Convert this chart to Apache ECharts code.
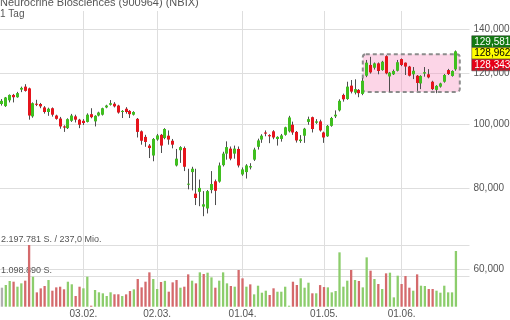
<!DOCTYPE html>
<html><head><meta charset="utf-8">
<script src="https://cdn.jsdelivr.net/npm/echarts@6/dist/echarts.min.js"></script>
<style>html,body{margin:0;padding:0;background:#fff}#c{width:510px;height:320px}</style>
</head><body><div id="c"></div>
<script>
const chartTitle = 'Neurocrine Biosciences (900964) (NBIX)';
const chartSubtitle = '1 Tag';

const dates = [
 '02.01.','03.01.','06.01.','07.01.','08.01.','09.01.','10.01.','13.01.','14.01.','15.01.','16.01.','17.01.','21.01.','22.01.','23.01.','24.01.','27.01.','28.01.','29.01.','30.01.','31.01.',
 '03.02.','04.02.','05.02.','06.02.','07.02.','10.02.','11.02.','12.02.','13.02.','14.02.','18.02.','19.02.','20.02.','21.02.','24.02.','25.02.','26.02.','27.02.','28.02.',
 '02.03.','03.03.','04.03.','05.03.','06.03.','09.03.','10.03.','11.03.','12.03.','13.03.','16.03.','17.03.','18.03.','19.03.','20.03.','23.03.','24.03.','25.03.','26.03.','27.03.','30.03.','31.03.',
 '01.04.','02.04.','03.04.','06.04.','07.04.','08.04.','09.04.','13.04.','14.04.','15.04.','16.04.','17.04.','20.04.','21.04.','22.04.','23.04.','24.04.','27.04.','28.04.','29.04.','30.04.',
 '01.05.','04.05.','05.05.','06.05.','07.05.','08.05.','11.05.','12.05.','13.05.','14.05.','15.05.','18.05.','19.05.','20.05.','21.05.','22.05.','26.05.','27.05.','28.05.','29.05.',
 '01.06.','02.06.','03.06.','04.06.','05.06.','08.06.','09.06.','10.06.','11.06.','12.06.','15.06.','16.06.','17.06.','18.06.','19.06.'
];

const openPx = [
 107.6,106.8,109.0,111.1,110.2,113.2,114.4,113.7,103.0,107.7,
 107.6,106.3,104.6,106.0,103.3,102.2,99.4,98.8,101.4,103.0,
 101.8,101.4,101.0,103.8,101.2,103.3,103.6,106.3,107.3,107.7,
 107.0,104.6,105.8,105.0,103.6,102.1,97.7,95.8,92.9,89.7,
 94.9,96.5,95.4,96.2,94.5,86.6,91.4,92.1,81.0,84.6,
 78.4,78.9,74.9,74.4,79.4,81.9,81.8,86.7,90.3,91.9,
 90.3,91.8,83.9,84.6,86.0,88.4,92.5,94.9,97.3,96.4,
 97.7,95.1,95.1,96.5,97.7,100.0,97.5,94.4,96.2,101.0,
 102.7,100.7,101.2,97.3,96.0,99.6,103.0,105.2,111.1,109.5,
 114.8,112.0,113.1,111.5,118.9,123.5,122.3,124.2,121.3,127.4,
 118.6,119.5,121.0,126.1,124.5,122.8,119.5,118.9,115.7,119.8,
 119.5,116.4,113.1,114.4,116.4,121.3,118.8,121.6
];
const closePx = [
 108.8,110.1,111.1,110.2,111.8,113.9,112.7,103.3,107.9,107.3,
 106.7,104.6,105.8,103.6,102.1,99.4,99.0,102.0,103.3,101.8,
 100.0,100.6,103.6,102.7,103.2,104.4,106.0,107.0,107.9,106.7,
 104.4,105.0,104.6,103.8,104.6,97.5,94.5,94.1,92.1,95.1,
 96.3,92.9,98.5,94.9,93.2,88.7,92.4,86.2,81.2,85.6,
 77.2,80.0,75.5,79.1,81.1,79.2,86.6,90.3,92.4,88.7,
 91.9,86.6,85.4,86.6,86.4,91.6,94.6,96.2,96.9,96.0,
 95.6,95.8,96.3,99.1,102.6,97.3,94.6,94.9,98.6,102.0,
 98.5,101.2,98.0,95.6,99.6,102.4,103.6,108.8,109.4,114.4,
 112.4,113.4,111.8,116.8,124.5,120.3,124.2,120.9,124.9,119.9,
 120.2,120.9,124.7,123.5,122.8,118.9,121.0,115.9,118.8,120.4,
 118.2,113.4,114.7,115.7,119.2,119.6,120.9,129.581
];
const lowPx = [
 107.0,106.5,108.2,108.2,110.0,112.2,112.4,101.8,102.5,106.8,
 106.0,104.0,103.2,102.9,101.8,98.6,97.5,98.5,101.0,100.8,
 98.8,99.9,100.8,102.3,99.4,103.0,103.3,106.0,107.0,106.3,
 104.0,102.4,104.0,102.4,103.3,95.6,93.2,92.5,88.9,87.9,
 94.5,90.5,95.0,93.2,92.0,86.3,87.4,84.9,79.6,79.3,
 75.3,75.0,72.4,73.1,78.5,75.3,81.5,86.3,88.4,88.2,
 88.7,86.0,83.5,82.7,85.4,88.0,91.6,93.8,96.0,93.7,
 95.0,92.9,94.2,96.2,97.3,96.5,93.9,93.8,93.8,100.0,
 97.3,100.3,97.6,93.8,95.8,99.3,102.4,104.8,108.5,109.2,
 111.7,111.3,110.2,111.0,118.3,119.8,121.5,119.5,121.0,119.5,
 112.4,119.2,120.7,123.0,119.2,118.6,117.5,112.7,113.4,118.5,
 117.8,113.0,111.8,114.0,116.0,119.2,118.5,121.0
];
const highPx = [
 109.5,110.3,111.3,111.5,112.3,114.4,115.4,114.0,108.2,109.2,
 108.0,106.8,106.2,106.3,103.6,102.8,99.8,102.3,103.9,103.6,
 102.1,102.0,104.1,106.0,103.4,104.7,106.2,107.3,109.1,108.3,
 107.3,105.3,106.4,105.3,104.9,102.4,98.0,96.5,93.4,95.4,
 96.8,96.8,98.8,98.0,95.1,91.8,92.7,92.6,85.6,86.2,
 85.6,82.4,79.1,79.4,84.9,82.4,87.5,90.9,94.3,92.6,
 92.9,92.6,86.0,87.0,87.3,92.2,95.2,96.7,98.0,96.7,
 98.1,96.0,96.8,99.3,103.2,101.1,97.8,96.4,98.9,102.9,
 102.9,102.0,101.8,97.6,99.9,102.8,105.2,109.4,111.6,116.4,
 117.1,117.4,113.4,117.9,125.7,127.1,124.6,124.6,125.3,127.8,
 120.5,121.5,125.7,126.4,124.6,123.1,122.6,119.2,119.1,122.6,
 121.7,116.8,115.0,116.0,119.6,121.8,121.2,130.0
];
const volume = [
 677000,772000,915000,891000,713000,832000,927000,2197781,1069000,511000,
 653000,737000,950000,570000,689000,712000,620000,890000,798000,381000,
 712000,655000,1069000,36000,595000,513000,477000,381000,513000,442000,
 442000,380000,440000,558000,618000,986000,689000,891000,1224000,986000,
 630000,880000,920000,535000,867000,950000,677000,713000,1152000,927000,
 832000,1224000,1164000,1212000,1045000,677000,927000,1224000,832000,737000,
 713000,1307000,1010000,713000,796000,440000,748000,499000,570000,417000,
 655000,534000,534000,712000,36000,890000,773000,1012000,677000,855000,
 477000,477000,770000,700000,689000,511000,558000,1936000,713000,927000,
 1307000,950000,915000,689000,1758000,1283000,986000,808000,630000,1188000,
 1212000,333000,1105000,808000,1093000,677000,570000,1152000,748000,737000,
 630000,630000,570000,499000,748000,511000,511000,1984000
];
const priceTicks = [60, 80, 100, 120, 140];
const priceTags = [129.581, 128.962, 128.343];
const turnoverMio = 237.0;
const boxRange = { fromIdx: 92.6, toIdx: 117.8, low: 112.3, high: 128.3 };

const FONT = 'Liberation Sans, Arial, sans-serif';
const UP = '#3fbf1f', DOWN = '#e5141c', WICK = '#4d4d4d';
const VUP = '#8ccd6c', VDOWN = '#d46a6c', VNEUTRAL = '#b0b0b0';
const GRIDC = '#dedede', TXT = '#555';

const fmtPrice = v => v.toFixed(3).replace('.', ',');
const fmtInt = n => String(Math.floor(n)).replace(/\B(?=(\d{3})+(?!\d))/g, '.');
const isMonthStart = idx => idx > 0 && idx < dates.length && dates[idx].slice(3, 5) !== dates[idx - 1].slice(3, 5);

const candleData = dates.map((d, i) => [i, openPx[i], closePx[i], lowPx[i], highPx[i]]);
const volData = volume.map((v, i) => ({
  value: v,
  itemStyle: { color: i === 0 ? VNEUTRAL : (closePx[i] >= closePx[i - 1] ? VUP : VDOWN) }
}));
const volMax = Math.max(...volume);

function renderCandle(params, api) {
  const i = api.value(0), o = api.value(1), c = api.value(2), l = api.value(3), h = api.value(4);
  const pO = api.coord([i, o]), pC = api.coord([i, c]), pL = api.coord([i, l]), pH = api.coord([i, h]);
  const x = Math.round(pO[0] - 0.5) + 0.5;
  const top = Math.min(pO[1], pC[1]), bot = Math.max(pO[1], pC[1]);
  return {
    type: 'group',
    children: [
      { type: 'line', shape: { x1: x, y1: pH[1], x2: x, y2: pL[1] }, style: { stroke: WICK, lineWidth: 1 } },
      { type: 'rect', shape: { x: x - 1.5, y: top, width: 3, height: Math.max(bot - top, 1) }, style: { fill: c >= o ? UP : DOWN } }
    ]
  };
}

const GL = 0, GR = 40.5, BOTTOM = 13.3;
const chart = echarts.init(document.getElementById('c'), null, { renderer: 'canvas' });
const option = {
  animation: false,
  backgroundColor: '#fff',
  textStyle: { fontFamily: FONT },
  title: {
    text: chartTitle, subtext: chartSubtitle, left: 0, top: -3, padding: 0, itemGap: 1,
    textStyle: { fontSize: 11, fontWeight: 'normal', color: TXT, fontFamily: FONT },
    subtextStyle: { fontSize: 10, color: TXT, fontFamily: FONT }
  },
  grid: [
    { left: GL, right: GR, top: 11, bottom: BOTTOM },
    { left: GL, right: GR, top: 245, bottom: BOTTOM }
  ],
  xAxis: [
    {
      type: 'category', gridIndex: 0, data: dates, max: dates.length + 2, boundaryGap: true,
      axisLine: { show: false }, axisTick: { show: false },
      axisLabel: { interval: idx => isMonthStart(idx), color: TXT, fontSize: 10, margin: 3, fontFamily: FONT },
      splitLine: { show: true, interval: idx => isMonthStart(idx), alignWithLabel: true, lineStyle: { color: GRIDC, width: 1 } }
    },
    {
      type: 'category', gridIndex: 1, data: dates, max: dates.length + 2, boundaryGap: true,
      show: false
    }
  ],
  yAxis: [
    {
      type: 'log', logBase: 10, gridIndex: 0, min: 52.59, max: 149.43, position: 'right',
      axisLine: { show: false }, axisTick: { show: false }, axisLabel: { show: false }, splitLine: { show: false }
    },
    {
      type: 'value', gridIndex: 1, min: 0, max: volMax, position: 'left',
      axisLine: { show: false }, axisTick: { show: false }, axisLabel: { show: false }, splitLine: { show: false }
    }
  ],
  series: [
    {
      type: 'bar', name: 'Volumen', xAxisIndex: 1, yAxisIndex: 1, data: volData, barWidth: 2.3, z: 2,
      markLine: {
        silent: true, symbol: 'none', animation: false, z: 1,
        lineStyle: { color: GRIDC, width: 1, type: 'solid' },
        label: { position: 'insideStartTop', color: TXT, fontSize: 9, fontFamily: FONT, distance: [1, 1] },
        data: [
          { yAxis: volMax, label: { formatter: fmtInt(volMax) + ' S. / ' + turnoverMio.toFixed(1).replace('.', ',') + ' Mio.' } },
          { yAxis: volMax / 2, label: { formatter: fmtInt(volMax / 2) + ' S.' } }
        ]
      }
    },
    {
      type: 'custom', name: 'Kurs', xAxisIndex: 0, yAxisIndex: 0, data: candleData, z: 3,
      encode: { x: 0, y: [1, 2, 3, 4] },
      renderItem: renderCandle,
      markLine: {
        silent: true, symbol: 'none', animation: false, z: 1,
        lineStyle: { color: GRIDC, width: 1, type: 'solid' },
        label: { position: 'end', formatter: p => fmtPrice(p.value), color: TXT, fontSize: 10, fontFamily: FONT, distance: 4 },
        data: priceTicks.map(v => ({ yAxis: v }))
      }
    }
  ]
};
chart.setOption(option);

// annotations placed through the chart's own scales
const pA = chart.convertToPixel({ xAxisIndex: 0, yAxisIndex: 0 }, [boxRange.fromIdx, boxRange.high]);
const pB = chart.convertToPixel({ xAxisIndex: 0, yAxisIndex: 0 }, [boxRange.toIdx, boxRange.low]);
const tagColors = [['#127a12', '#fff'], ['#ffff00', '#000'], ['#e60018', '#fff']];
const tagEls = priceTags.map((v, k) => ({
  type: 'group', left: 471.5, top: 35.5 + k * 11.8, z: 100,
  children: [
    { type: 'rect', shape: { x: 0, y: 0, width: 40, height: 11.5 }, style: { fill: tagColors[k][0], stroke: '#333', lineWidth: 0.5 } },
    { type: 'text', x: 2.5, y: 6, style: { text: fmtPrice(v), fill: tagColors[k][1], font: '10px ' + FONT, textVerticalAlign: 'middle', verticalAlign: 'middle' } }
  ]
}));
chart.setOption({
  graphic: [
    {
      type: 'rect', z: 1, silent: true,
      shape: { x: pA[0], y: pA[1], width: pB[0] - pA[0], height: pB[1] - pA[1], r: 3 },
      style: { fill: 'rgba(248,150,195,0.4)', stroke: '#8c8c8c', lineWidth: 2, lineDash: [4, 3] }
    },
    ...tagEls
  ]
});
</script></body></html>
